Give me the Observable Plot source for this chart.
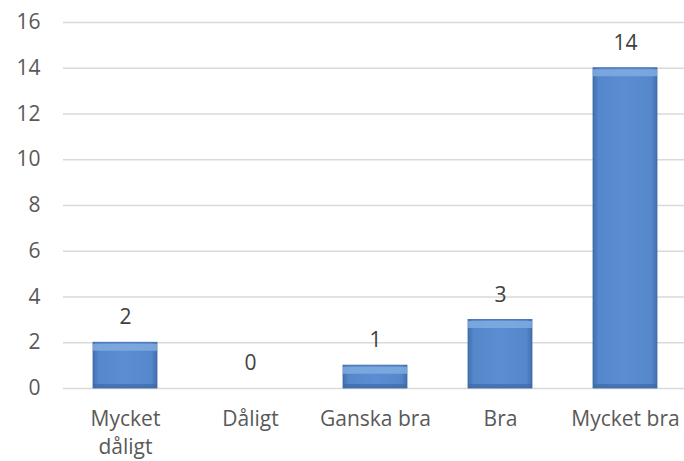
<!DOCTYPE html>
<html>
<head>
<meta charset="utf-8">
<script src="https://cdn.jsdelivr.net/npm/d3@7"></script>
<script src="https://cdn.jsdelivr.net/npm/@observablehq/plot@0.6"></script>
<style>
  body { margin: 0; background: #fff; }
  #chart svg { font-family: "Open Sans", sans-serif; }
</style>
</head>
<body>
<div id="chart"></div>
<script>
const categories = ["Mycket dåligt", "Dåligt", "Ganska bra", "Bra", "Mycket bra"];
const axisLabels = ["Mycket\ndåligt", "Dåligt", "Ganska bra", "Bra", "Mycket bra"];
const values = [2, 0, 1, 3, 14];
const yTicks = [0, 2, 4, 6, 8, 10, 12, 14, 16];

const data = categories.map((c, i) => ({cat: c, label: axisLabels[i], value: values[i]}));
const nonzero = data.filter(d => d.value > 0);

const defs = () => {
  const g = d3.create("svg:defs");
  const h = g.append("linearGradient").attr("id", "barH").attr("x1", 0).attr("x2", 1).attr("y1", 0).attr("y2", 0);
  h.append("stop").attr("offset", "0%").attr("stop-color", "#4370b0");
  h.append("stop").attr("offset", "9%").attr("stop-color", "#5587cb");
  h.append("stop").attr("offset", "50%").attr("stop-color", "#5c8dd2");
  h.append("stop").attr("offset", "91%").attr("stop-color", "#5587cb");
  h.append("stop").attr("offset", "100%").attr("stop-color", "#4370b0");
  return g.node();
};

const chart = Plot.plot({
  width: 684,
  height: 461,
  marginLeft: 63,
  marginRight: 0,
  marginTop: 22,
  marginBottom: 73,
  style: {fontFamily: "Open Sans, sans-serif", fontSize: "21px", color: "#595959", background: "#fff"},
  x: {domain: categories, range: [62.5, 687.5], paddingInner: 0.49, paddingOuter: 0.245, axis: null},
  y: {domain: [0, 16], range: [388, 22], axis: null},
  marks: [
    defs,
    Plot.ruleY(yTicks, {stroke: "#d9d9d9", strokeWidth: 1.3}),
    Plot.text(yTicks, {y: d => d, text: d => String(d), frameAnchor: "left", dx: -23, textAnchor: "end", fill: "#595959", fontSize: 21}),
    Plot.barY(nonzero, {x: "cat", y: "value", fill: "url(#barH)", stroke: "#3d69a6", strokeWidth: 0.8,
      style: "filter: drop-shadow(1px 2px 2px rgba(0,0,0,0.35))"}),
    Plot.tickY(nonzero, {x: "cat", y: "value", stroke: "#80abe0", strokeWidth: 7, dy: 4.5, strokeOpacity: 0.85}),
    Plot.tickY(nonzero, {x: "cat", y: 0, stroke: "#3f6aa6", strokeWidth: 4, dy: -2.5, strokeOpacity: 0.7}),
    Plot.text(data, {x: "cat", y: "value", text: d => String(d.value), dy: -25, fill: "#404040", fontSize: 21}),
    Plot.text(data, {x: "cat", text: "label", frameAnchor: "bottom", lineAnchor: "top", dy: 18, lineHeight: 1.33, fill: "#595959", fontSize: 21})
  ]
});

document.getElementById("chart").appendChild(chart);
</script>
</body>
</html>
